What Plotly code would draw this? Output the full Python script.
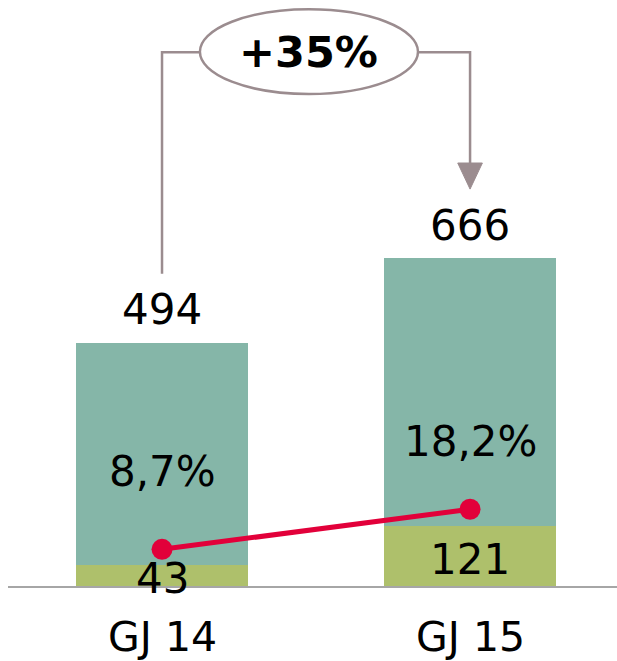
import plotly.graph_objects as go

categories = ["GJ 14", "GJ 15"]
base_values = [43, 121]
totals = [494, 666]
pct_values = [8.7, 18.2]

top_values = [t - b for t, b in zip(totals, base_values)]
growth = round((totals[1] / totals[0] - 1) * 100)

TEAL = "#85B6A8"
OLIVE = "#AEC06B"
RED = "#E2003A"
BRACKET = "#9B8C8F"
FONT = "DejaVu Sans"

fig = go.Figure()
fig.add_trace(go.Bar(x=categories, y=base_values, marker=dict(color=OLIVE, line=dict(width=0)),
                     hoverinfo="skip"))
fig.add_trace(go.Bar(x=categories, y=top_values, marker=dict(color=TEAL, line=dict(width=0)),
                     hoverinfo="skip"))
fig.add_trace(go.Scatter(x=categories, y=pct_values, yaxis="y2", mode="lines+markers",
                         line=dict(color=RED, width=5), marker=dict(color=RED, size=21),
                         hoverinfo="skip"))

ann = []
for c in categories:
    ann.append(dict(x=c, y=0, xref="x", yref="paper", text=c, showarrow=False,
                    yanchor="middle", yshift=-51, font=dict(size=41, color="black", family=FONT)))
for c, t in zip(categories, totals):
    ann.append(dict(x=c, y=t, xref="x", yref="y", text=str(t), showarrow=False,
                    yanchor="middle", yshift=33, font=dict(size=42, color="black", family=FONT)))
for c, b in zip(categories, base_values):
    ann.append(dict(x=c, y=b / 2, xref="x", yref="y", text=str(b), showarrow=False,
                    yanchor="middle", yshift=-3, font=dict(size=42, color="black", family=FONT)))
pct_shift = [78, 68]
for c, p, s in zip(categories, pct_values, pct_shift):
    ann.append(dict(x=c, y=p, xref="x", yref="y2", text=f"{p:.1f}".replace(".", ",") + "%",
                    showarrow=False, yanchor="middle", yshift=s,
                    font=dict(size=42, color="black", family=FONT)))
ann.append(dict(x=0.477, y=1085, xref="x", yref="y", text=f"<b>+{growth}%</b>", showarrow=False,
                yanchor="middle", font=dict(size=43, color="black", family=FONT)))

off = 140
top_y = 1084
ell_x0, ell_x1 = 0.123, 0.831
shapes = [
    dict(type="path", xref="x", yref="y",
         path=f"M 0,{totals[0] + off} L 0,{top_y} L {ell_x0},{top_y}",
         line=dict(color=BRACKET, width=2.5)),
    dict(type="path", xref="x", yref="y",
         path=f"M {ell_x1},{top_y} L 1,{top_y} L 1,{totals[1] + off + 50}",
         line=dict(color=BRACKET, width=2.5)),
    dict(type="path", xref="x", yref="y",
         path=f"M 0.96,{totals[1] + off + 53} L 1.04,{totals[1] + off + 53} L 1,{totals[1] + off} Z",
         fillcolor=BRACKET, line=dict(color=BRACKET, width=1)),
    dict(type="circle", xref="x", yref="y", x0=ell_x0, x1=ell_x1, y0=999, y1=1171,
         fillcolor="white", line=dict(color=BRACKET, width=2.5)),
]

fig.update_layout(
    width=617, height=661,
    margin=dict(l=8, r=0, t=0, b=75, autoexpand=False),
    barmode="stack", bargap=0.44,
    showlegend=False,
    plot_bgcolor="white", paper_bgcolor="white",
    font=dict(family=FONT, color="black"),
    xaxis=dict(type="category", range=[-0.5, 1.477], showgrid=False, zeroline=False,
               showline=True, linecolor="#A6A6A6", linewidth=2, ticks="",
               showticklabels=False, automargin=False),
    yaxis=dict(range=[0, 1190], visible=False, showgrid=False, automargin=False),
    yaxis2=dict(range=[0, 139], overlaying="y", visible=False, showgrid=False, automargin=False),
    annotations=ann,
    shapes=shapes,
)

fig.write_html("out.html", config={"displayModeBar": False},
               post_script="document.body.style.margin='0';document.body.style.overflow='hidden';")
